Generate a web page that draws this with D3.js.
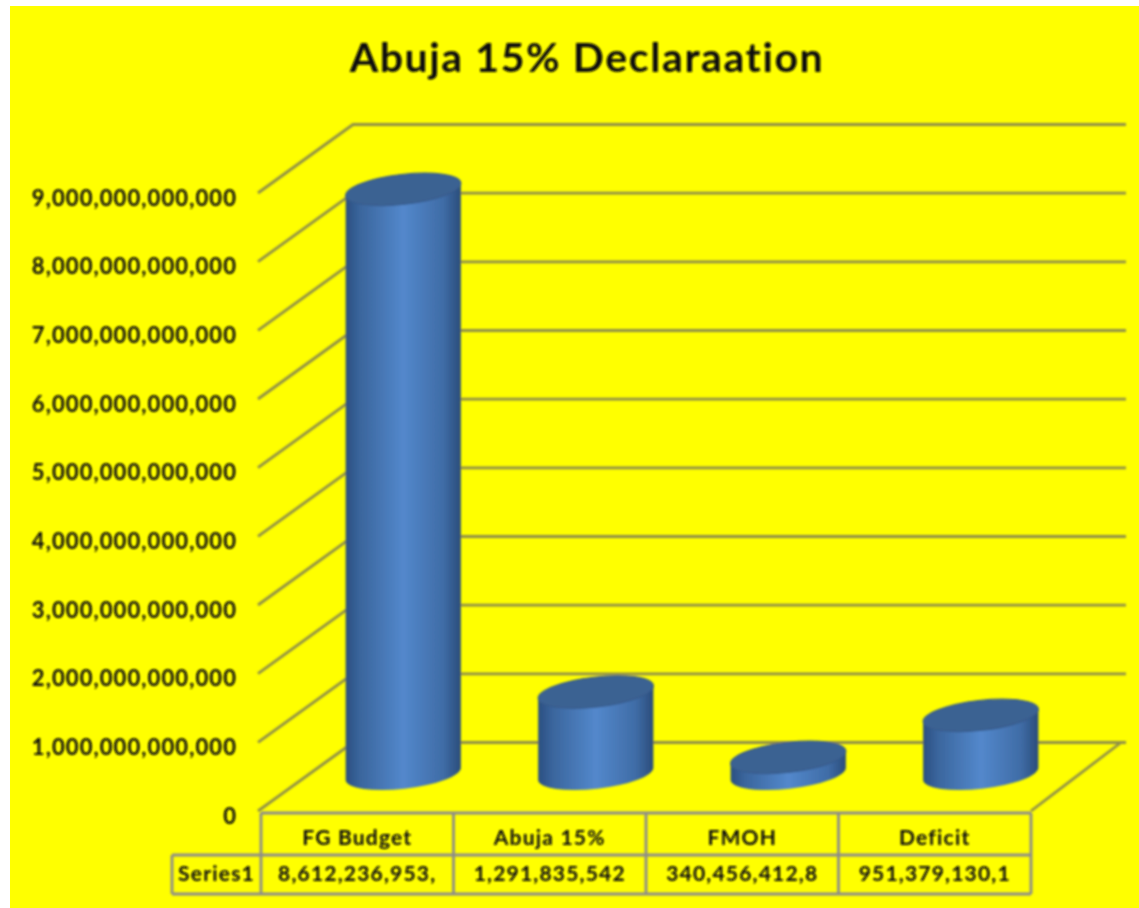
<!DOCTYPE html>
<html>
<head>
<meta charset="utf-8">
<script src="https://cdnjs.cloudflare.com/ajax/libs/d3/7.8.5/d3.min.js"></script>
<style>
html, body { margin: 0; padding: 0; background: #fff; }
text { font-variant-ligatures: none; }
</style>
</head>
<body>
<div id="svg-container"></div>
<script>
var width = 1139;
var height = 908;

// data (table cells are cut off in the original)
var categories = ["FG Budget", "Abuja 15%", "FMOH", "Deficit"];
var seriesName = "Series1";
var values = [8612236953000, 1291835542000, 340456412800, 951379130100];
var cellLabels = ["8,612,236,953,", "1,291,835,542", "340,456,412,8", "951,379,130,1"];
var yTicks = [0, 1e12, 2e12, 3e12, 4e12, 5e12, 6e12, 7e12, 8e12, 9e12];

// 3d box of the plot
var frontLeft = 261, frontRight = 1031;
var frontBase = 811, frontTop = 193;
var depthX = 92, depthY = -68.5;
var rx = 58, ry = 15, tilt = -6.5;

var svg = d3.select('#svg-container').append('svg')
  .attr('width', width)
  .attr('height', height)
  .style('display', 'block');

var defs = svg.append('defs');
var blur = defs.append('filter').attr('id', 'soft')
  .attr('x', '-5%').attr('y', '-5%').attr('width', '110%').attr('height', '110%');
blur.append('feGaussianBlur').attr('stdDeviation', 0.9);

var side = defs.append('linearGradient').attr('id', 'side');
[[0, '#2b4f80'], [0.12, '#3a659c'], [0.5, '#5388cc'], [0.85, '#3f6ca6'], [1, '#2a4c7a']].forEach(function(s) {
  side.append('stop').attr('offset', s[0]).attr('stop-color', s[1]);
});

svg.append('rect')
  .attr('x', 10).attr('y', 6)
  .attr('width', width - 10).attr('height', height - 6)
  .attr('fill', '#ffff00');

var g = svg.append('g').attr('filter', 'url(#soft)');

g.append('text')
  .attr('x', 587).attr('y', 72)
  .attr('text-anchor', 'middle')
  .style('font-family', 'Lato')
  .style('font-weight', 'bold')
  .style('font-size', '41px')
  .style('letter-spacing', '1.6px')
  .attr('fill', '#0a0a0a')
  .text('Abuja 15% Declaraation');

var yScale = d3.scaleLinear().domain([0, 9e12]).range([frontBase, frontTop]);
var xScale = d3.scaleBand().domain(categories).range([frontLeft, frontRight]);

// grid lines, side wall then back wall
var grid = g.append('g');
grid.selectAll('polyline')
  .data(yTicks)
  .enter()
  .append('polyline')
  .attr('fill', 'none')
  .attr('stroke', '#8f8f48')
  .attr('stroke-width', 2.8)
  .attr('points', function(d) {
    var y = yScale(d);
    return [[frontLeft - 3, y], [frontLeft + depthX, y + depthY], [1126, y + depthY]].join(' ');
  });

// right edge of the floor
g.append('line')
  .attr('x1', frontRight).attr('y1', frontBase)
  .attr('x2', 1121).attr('y2', frontBase + depthY)
  .attr('stroke', '#8f8f48').attr('stroke-width', 2.8);

// y axis labels
var yAxis = d3.axisLeft(yScale)
  .tickValues(yTicks)
  .tickSize(0)
  .tickPadding(0)
  .tickFormat(d3.format(',.0f'));
var axisG = g.append('g')
  .attr('transform', 'translate(237,5)')
  .call(yAxis);
axisG.select('.domain').remove();
axisG.selectAll('text')
  .style('font-family', 'Lato')
  .style('font-weight', 'bold')
  .style('font-size', '22px')
  .style('letter-spacing', '1.1px')
  .attr('fill', '#0a0a0a');

// cylinders
var cos = Math.cos(tilt * Math.PI / 180);
var sin = Math.sin(tilt * Math.PI / 180);
var dx = rx * cos, dy = rx * sin;
var bars = g.append('g').selectAll('g')
  .data(values)
  .enter()
  .append('g');

function cx(i) { return xScale(categories[i]) + xScale.bandwidth() / 2 + depthX / 2; }
function base() { return frontBase + depthY / 2 - 3; }
function top_(d) { return yScale(d) + depthY / 2 + 4; }

bars.append('path')
  .attr('fill', 'url(#side)')
  .attr('d', function(d, i) {
    var x = cx(i), yb = base(), yt = top_(d);
    return 'M' + (x - dx) + ',' + (yt - dy) +
      'L' + (x - dx) + ',' + (yb - dy) +
      'A' + rx + ',' + ry + ' ' + tilt + ' 0 0 ' + (x + dx) + ',' + (yb + dy) +
      'L' + (x + dx) + ',' + (yt + dy) + 'Z';
  });
bars.append('ellipse')
  .attr('rx', rx).attr('ry', ry)
  .attr('fill', '#3b6292')
  .attr('stroke', '#37598a')
  .attr('transform', function(d, i) {
    return 'translate(' + cx(i) + ',' + top_(d) + ') rotate(' + tilt + ')';
  });

// data table under the plot
var rowTop = 813, rowMid = 855, rowBottom = 894, headLeft = 172;
var table = g.append('g').attr('stroke', '#8c8c8c').attr('stroke-width', 2.8);
table.append('line').attr('x1', frontLeft).attr('x2', frontRight).attr('y1', rowTop).attr('y2', rowTop);
table.append('line').attr('x1', headLeft).attr('x2', frontRight).attr('y1', rowMid).attr('y2', rowMid);
table.append('line').attr('x1', headLeft).attr('x2', frontRight).attr('y1', rowBottom).attr('y2', rowBottom);
table.append('line').attr('x1', headLeft).attr('x2', headLeft).attr('y1', rowMid).attr('y2', rowBottom);
table.selectAll('line.v')
  .data(categories.concat(['end']))
  .enter()
  .append('line')
  .attr('class', 'v')
  .attr('x1', function(d, i) { return i < categories.length ? xScale(d) : frontRight; })
  .attr('x2', function(d, i) { return i < categories.length ? xScale(d) : frontRight; })
  .attr('y1', rowTop).attr('y2', rowBottom);

function cellText(sel) {
  sel.attr('text-anchor', 'middle')
    .style('font-family', 'Lato')
    .style('font-weight', 'bold')
    .style('font-size', '21px')
    .style('letter-spacing', '1.2px')
    .attr('fill', '#0a0a0a');
}
g.selectAll('text.cat')
  .data(categories)
  .enter()
  .append('text')
  .attr('class', 'cat')
  .attr('x', function(d) { return xScale(d) + xScale.bandwidth() / 2; })
  .attr('y', 845)
  .text(function(d) { return d; })
  .call(cellText);
g.selectAll('text.cell')
  .data(cellLabels)
  .enter()
  .append('text')
  .attr('class', 'cell')
  .attr('x', function(d, i) { return xScale(categories[i]) + xScale.bandwidth() / 2; })
  .attr('y', 881)
  .text(function(d) { return d; })
  .call(cellText);
g.append('text')
  .attr('x', (headLeft + frontLeft) / 2).attr('y', 881)
  .text(seriesName)
  .call(cellText);
</script>
</body>
</html>
